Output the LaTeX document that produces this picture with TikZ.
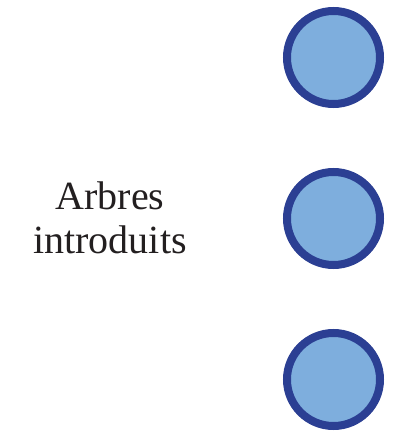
\documentclass[tikz,border=0pt]{standalone}
\usepackage{fontspec}
\setmainfont{Liberation Serif}
\usepackage{xcolor}
\usepackage{tikz}
\definecolor{treefill}{HTML}{7EAEDD}
\definecolor{treeline}{HTML}{2B3F93}
\definecolor{ink}{HTML}{231F20}
\tikzstyle{tree} = [circle, minimum size=93pt, inner sep=0pt, line width=8pt, draw=treeline, fill=treefill]
\tikzstyle{treetext} = [align=center, text=ink, font=\fontsize{40}{44}\selectfont]

\begin{document}
\begin{tikzpicture}[node distance = 161pt]

	\useasboundingbox (0,0) rectangle (404pt,432pt);

	\node (top) [tree] at (333.5pt,374.5pt) {};
		\node (middle) [tree,below of=top] {};
		\node (bottom) [tree,below of=middle] {};

	\node (intro) [treetext] at (110pt,214pt) {Arbres\\introduits};

\end{tikzpicture}
\end{document}
